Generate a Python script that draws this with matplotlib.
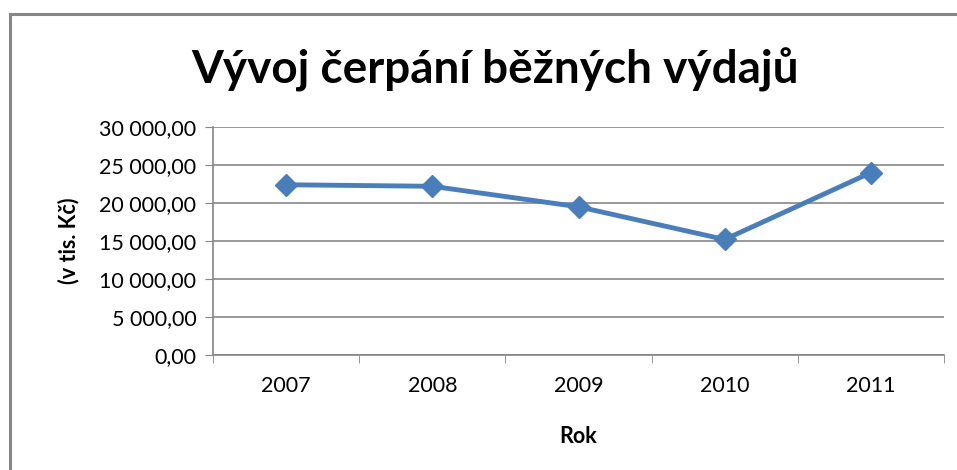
import matplotlib.pyplot as plt
from matplotlib.patches import Rectangle

# Data
years = ['2007', '2008', '2009', '2010', '2011']
values = [22400, 22200, 19500, 15200, 24000]
y_ticks = [0, 5000, 10000, 15000, 20000, 25000, 30000]


def cz_format(v):
    s = f"{v:,.2f}"
    return s.replace(',', ' ').replace('.', ',')


plt.rcParams['font.family'] = ['Lato', 'DejaVu Sans']
fig = plt.figure(figsize=(9.57, 4.70), dpi=100)
ax = fig.add_axes([213 / 957, 1 - 355 / 470, 731 / 957, 228 / 470])

x = range(len(years))
ax.plot(x, values, color='#4A7EBB', linewidth=3.5, marker='D', markersize=11,
        markeredgecolor='#4A7EBB', markerfacecolor='#4A7EBB', clip_on=False)

ax.set_xlim(-0.5, len(years) - 0.5)
ax.set_ylim(0, 30000)
ax.set_yticks(y_ticks)
ax.set_yticklabels([cz_format(v) for v in y_ticks], fontsize=15.5)
ax.set_xticks(list(x))
ax.set_xticklabels(years, fontsize=15.5)
ax.set_xticks([i - 0.5 for i in range(len(years) + 1)], minor=True)
ax.tick_params(axis='x', which='major', length=0, pad=15)
ax.tick_params(axis='x', which='minor', length=6, color='#868686')
ax.tick_params(axis='y', length=6, color='#868686', pad=6)

ax.grid(axis='y', color='#868686', linewidth=1.2)
ax.set_axisbelow(True)
for side in ['top', 'right']:
    ax.spines[side].set_visible(False)
for side in ['left', 'bottom']:
    ax.spines[side].set_color('#868686')
    ax.spines[side].set_linewidth(1.2)

ax.set_xlabel('Rok', fontsize=15.5, fontweight='bold', labelpad=22)
ax.set_ylabel('(v tis. Kč)', fontsize=15.5, fontweight='bold', labelpad=14)

fig.text(495 / 957, 1 - 70 / 470, 'Vývoj čerpání běžných výdajů', fontsize=33,
         fontweight='bold', ha='center', va='center')

# chart border
fig.add_artist(Rectangle((9.5 / 957, -0.1), 1.2, 1 - 14 / 470 + 0.1, transform=fig.transFigure,
                         fill=False, edgecolor='#868686', linewidth=2.2))

fig.savefig('out.png', dpi=100)
